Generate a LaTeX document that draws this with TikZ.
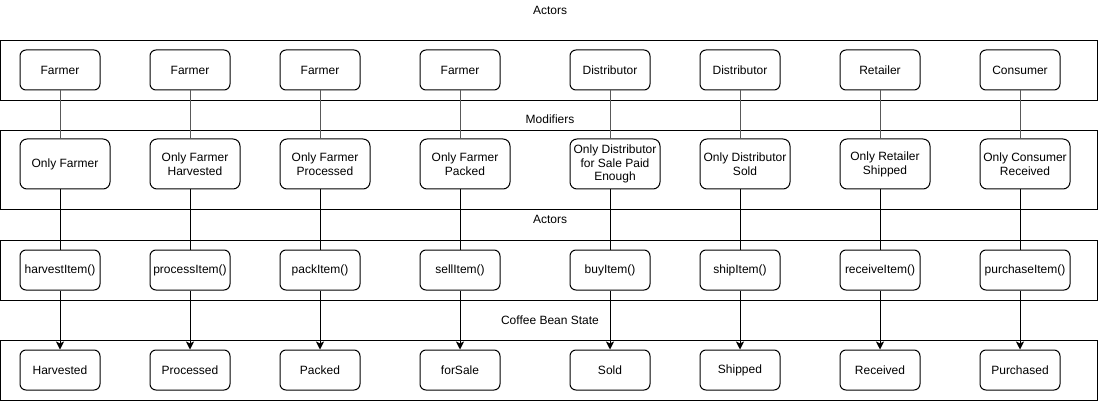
\documentclass[tikz,border=0pt]{standalone}
\usepackage{fontspec}
\setmainfont{Liberation Sans}
\usetikzlibrary{arrows.meta}
\begin{document}
\begin{tikzpicture}[x=1pt,y=-1pt,
  every node/.style={font=\fontsize{12}{14}\selectfont, inner sep=0pt},
  frame/.style={draw=black, line width=1pt},
  actbox/.style={draw=black, line width=1pt, rounded corners=6pt, minimum width=80pt, minimum height=40pt, align=center},
  widebox/.style={actbox, minimum width=90pt},
  modbox/.style={draw=black, line width=1pt, rounded corners=7pt, minimum width=90pt, minimum height=50pt, align=center},
  plainlink/.style={draw=black!65, line width=1pt},
  darklink/.style={draw=black, line width=1pt},
  arrowlink/.style={draw=black, line width=1pt, -{Stealth[length=8pt,width=8pt,inset=2pt]}},
  lbl/.style={}
]
\useasboundingbox (0,0) rectangle (1101,401);
\fill[white] (0,0) rectangle (1101,401);
% frames
\draw[frame] (0.5,40.5) rectangle (1097.5,100.5);
\draw[frame] (0.5,130.5) rectangle (1097.5,209.5);
\draw[frame] (0.5,240.5) rectangle (1097.5,300.5);
\draw[frame] (0.5,340.5) rectangle (1097.5,400);
% labels
\node[lbl] (l1) at (550,10) {Actors};
\node[lbl] (l2) at (550,119) {Modifiers};
\node[lbl] (l3) at (550,219) {Actors};
\node[lbl] (l4) at (550,320) {Coffee Bean State};
% actors row
\node[actbox] (a1) at (60,70) {Farmer};
\node[actbox] (a2) at (190,70) {Farmer};
\node[actbox] (a3) at (320,70) {Farmer};
\node[actbox] (a4) at (460,70) {Farmer};
\node[actbox] (a5) at (610,70) {Distributor};
\node[actbox] (a6) at (740,70) {Distributor};
\node[actbox] (a7) at (880,70) {Retailer};
\node[actbox] (a8) at (1020,70) {Consumer};
% modifiers row
\node[modbox] (m1) at (65,164) {Only Farmer};
\node[modbox] (m2) at (195,164) {Only Farmer\\Harvested};
\node[modbox] (m3) at (325,164) {Only Farmer\\Processed};
\node[modbox] (m4) at (465,164) {Only Farmer\\Packed};
\node[modbox, font=\fontsize{12}{13.5}\selectfont] (m5) at (615,164) {Only Distributor\\for Sale Paid\\Enough};
\node[modbox] (m6) at (745,164) {Only Distributor\\Sold};
\node[modbox] (m7) at (885,164) {Only Retailer\\Shipped};
\node[modbox] (m8) at (1025,164) {Only Consumer\\Received};
% functions row
\node[actbox] (f1) at (60,270) {harvestItem()};
\node[actbox] (f2) at (190,270) {processItem()};
\node[actbox] (f3) at (320,270) {packItem()};
\node[actbox] (f4) at (460,270) {sellItem()};
\node[actbox] (f5) at (610,270) {buyItem()};
\node[actbox] (f6) at (740,270) {shipItem()};
\node[actbox] (f7) at (880,270) {receiveItem()};
\node[widebox] (f8) at (1025,270) {purchaseItem()};
% state row
\node[actbox] (s1) at (60,370) {Harvested};
\node[actbox] (s2) at (190,370) {Processed};
\node[actbox] (s3) at (320,370) {Packed};
\node[actbox] (s4) at (460,370) {forSale};
\node[actbox] (s5) at (610,370) {Sold};
\node[actbox] (s6) at (740,370) {Shipped};
\node[actbox] (s7) at (880,370) {Received};
\node[actbox] (s8) at (1020,370) {Purchased};
% connectors
\foreach \i in {1,...,8} {
  \draw[plainlink] (a\i.south) -- (a\i.south |- m\i.north);
  \draw[darklink] (s\i.north |- m\i.south) -- (s\i.north |- f\i.north);
  \draw[arrowlink] (s\i.north |- f\i.south) -- (s\i.north);
}
\end{tikzpicture}
\end{document}
